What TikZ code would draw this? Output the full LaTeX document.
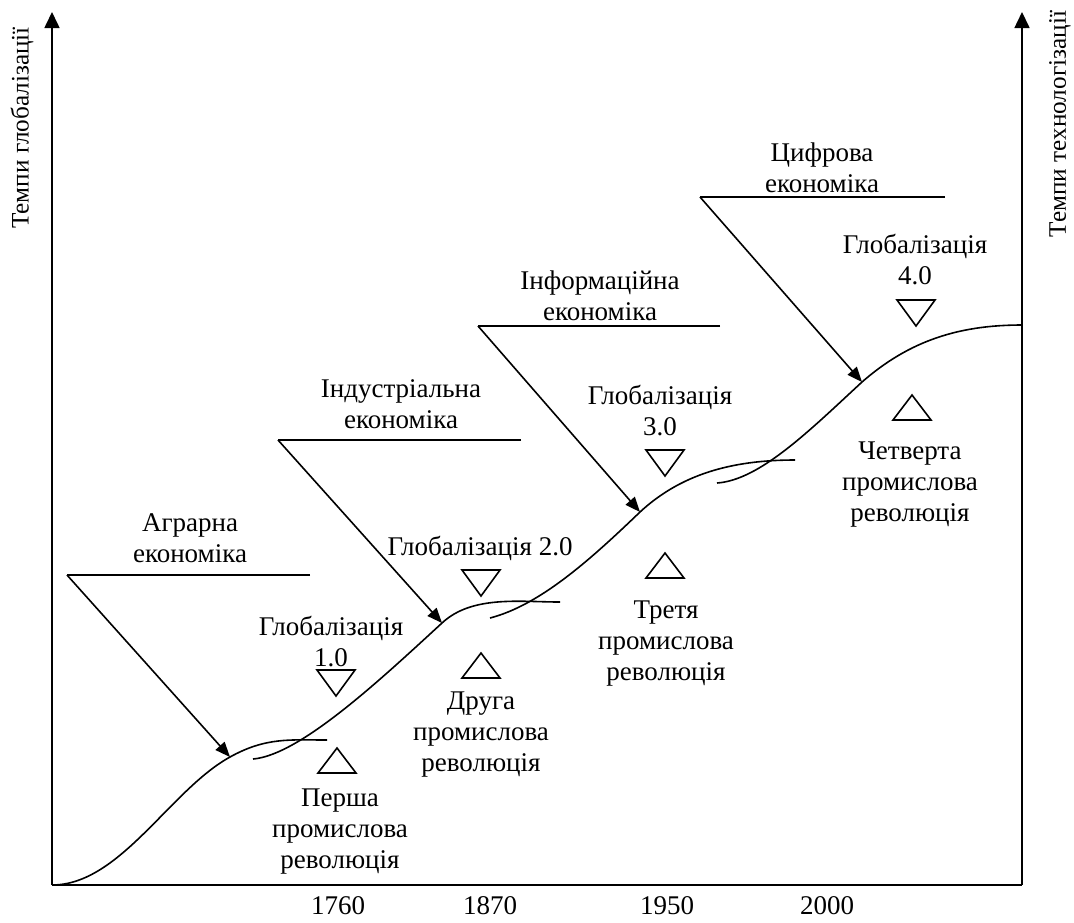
\documentclass[tikz,border=0pt]{standalone}
\usepackage{fontspec}
\setmainfont{Liberation Serif}
\usetikzlibrary{arrows.meta}

\begin{document}
\begin{tikzpicture}[x=0.5pt,y=-0.5pt,line width=0.8pt,
	txt/.style={align=center,font=\fontsize{13.5}{15.5}\selectfont,inner sep=0pt},
	axlab/.style={font=\fontsize{12.6}{15}\selectfont,inner sep=0pt,rotate=90},
	ptr/.style={-{Triangle[length=7.5pt,width=6pt]}},
	axis/.style={-{Triangle[length=8pt,width=7.5pt]}}]
\useasboundingbox (0,0) rectangle (1074,922);
% axes
\coordinate (O) at (52,885);
\coordinate (Ytop) at (52,12);
\coordinate (Xend) at (1022,885);
\coordinate (Rtop) at (1022,12);
\draw[axis] (O) -- (Ytop);
\draw (O) -- (Xend);
\draw[axis] (Xend) -- (Rtop);
\node[axlab] (globrate) at (22,128) {Темпи глобалізації};
\node[axlab] (techrate) at (1060,124) {Темпи технологізації};
% years
\foreach \x/\yr in {338/1760,490/1870,667/1950,827/2000}
	\node[txt] (y\yr) at (\x,906) {\yr};
% S-curves
\draw (O) .. controls (120,885) and (170,790) .. (230,757) .. controls (266,737) and (290,740) .. (327,740);
\draw (253,759) .. controls (300,755) and (380,680) .. (442,623) .. controls (472,595) and (520,602) .. (560,602);
\draw (490,618) .. controls (540,605) and (590,560) .. (640,512) .. controls (680,475) and (730,460) .. (795,460);
\draw (717,483) .. controls (760,480) and (810,430) .. (862,382) .. controls (910,340) and (960,325) .. (1022,325);
% economies
\node[txt] (agr) at (190,538) {Аграрна\\економіка};
\node[txt] (ind) at (401,404) {Індустріальна\\економіка};
\node[txt] (inf) at (600,296) {Інформаційна\\економіка};
\node[txt] (dig) at (822,168) {Цифрова\\економіка};
\coordinate (agrL) at (67,575); \coordinate (agrR) at (310,575); \coordinate (agrT) at (230,757);
\coordinate (indL) at (278,440); \coordinate (indR) at (521,440); \coordinate (indT) at (442,623);
\coordinate (infL) at (478,326); \coordinate (infR) at (720,326); \coordinate (infT) at (640,512);
\coordinate (digL) at (700,197); \coordinate (digR) at (945,197); \coordinate (digT) at (862,382);
\foreach \e in {agr,ind,inf,dig}
{
	\draw (\e R) -- (\e L);
	\draw[ptr] (\e L) -- (\e T);
}
% globalisation
\node[txt] (g1) at (331,642) {Глобалізація\\1.0};
\node[txt] (g2) at (480,548) {Глобалізація 2.0};
\node[txt] (g3) at (660,411) {Глобалізація\\3.0};
\node[txt] (g4) at (915,260) {Глобалізація\\4.0};
\foreach \x/\y in {336/670,481/570,665/450,916/300}
	\draw (\x-19,\y) -- (\x+19,\y) -- (\x,\y+26) -- cycle;
% revolutions
\node[txt] (r1) at (340,832) {Перша\\промислова\\революція};
\node[txt] (r2) at (481,735) {Друга\\промислова\\революція};
\node[txt] (r3) at (666,644) {Третя\\промислова\\революція};
\node[txt] (r4) at (910,485) {Четверта\\промислова\\революція};
\foreach \x/\y in {337/748,481/653,665/553,912/395}
	\draw (\x,\y) -- (\x+19,\y+25) -- (\x-19,\y+25) -- cycle;
\end{tikzpicture}
\end{document}
